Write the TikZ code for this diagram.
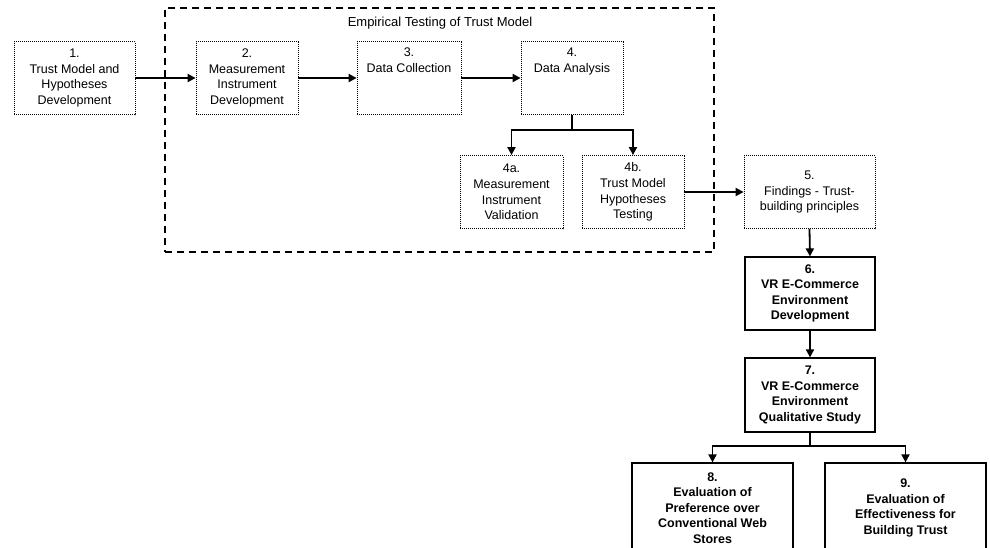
\documentclass[tikz,border=0pt]{standalone}
\usepackage{fontspec}
\setmainfont{Liberation Sans}
\usetikzlibrary{arrows.meta, positioning}
\definecolor{ink}{RGB}{0,0,0}

\begin{document}
\begin{tikzpicture}[
    x=1pt, y=-1pt,
    every node/.style={font=\fontsize{12.5}{15.6}\selectfont, align=center, inner sep=0pt},
    stagebox/.style={draw=ink, line width=0.8pt, dash pattern=on 1pt off 1pt, minimum height=73pt},
    studybox/.style={draw=ink, line width=1.2pt, font=\fontsize{12.5}{15.6}\selectfont\bfseries, minimum height=73pt},
    groupframe/.style={draw=ink, line width=1.3pt, dash pattern=on 7pt off 5pt, minimum width=549pt, minimum height=244pt},
    flow/.style={draw=ink, line width=1.8pt, -{Triangle[length=8pt,width=8pt]}}
]
\useasboundingbox (0,0) rectangle (990,547);

% Empirical testing frame
\node[groupframe] (empirical) at (439.5,130) {};
\node[font=\fontsize{13}{15}\selectfont] (emptitle) at (440,23) {Empirical Testing of Trust Model};

% Dotted stages
\node[stagebox, minimum width=121pt] (trust) at (74.5,78) {1.\\Trust Model and\\Hypotheses\\Development};
\node[stagebox, minimum width=102pt] (instr) at (247,78) {2.\\Measurement\\Instrument\\Development};
\node[stagebox, minimum width=104pt] (collect) at (409,78) {3.\\Data Collection\\\strut\\\strut};
\node[stagebox, minimum width=102pt] (analysis) at (572,78) {4.\\Data Analysis\\\strut\\\strut};
\node[stagebox, minimum width=103pt] (valid) at (511.5,192) {4a.\\Measurement\\Instrument\\Validation};
\node[stagebox, minimum width=102pt] (hyptest) at (633,192) {4b.\\Trust Model\\Hypotheses\\Testing};
\node[stagebox, minimum width=131pt] (findings) at (809.5,192) {5.\\Findings - Trust-\\building principles};

% VR study boxes
\node[studybox, minimum width=130pt] (vrdev) at (810,293.5) {6.\\VR E-Commerce\\Environment\\Development};
\node[studybox, minimum width=130pt, minimum height=74pt] (vrqual) at (810,395) {7.\\VR E-Commerce\\Environment\\Qualitative Study};
\node[studybox, minimum width=161pt, minimum height=90pt] (prefer) at (712.5,508) {8.\\Evaluation of\\Preference over\\Conventional Web\\Stores};
\node[studybox, minimum width=161pt, minimum height=90pt] (effect) at (905.5,508) {9.\\Evaluation of\\Effectiveness for\\Building Trust};

% Arrows
\foreach \a/\b in {trust/instr, instr/collect, collect/analysis, hyptest/findings}
    \draw[flow] (\a) -- (\b);
\foreach \a/\b in {findings/vrdev, vrdev/vrqual}
    \draw[flow] (\a.south) -- (\b.north);

% Forks
\coordinate (afork) at (572,130);
\draw[line width=1.8pt] (analysis.south) -- (afork);
\draw[flow] (afork) -| (valid.north);
\draw[flow] (afork) -| (hyptest.north);

\coordinate (qfork) at (810,446);
\draw[line width=1.8pt] (vrqual.south) -- (qfork);
\draw[flow] (qfork) -| (prefer.north);
\draw[flow] (qfork) -| (effect.north);

\end{tikzpicture}
\end{document}
